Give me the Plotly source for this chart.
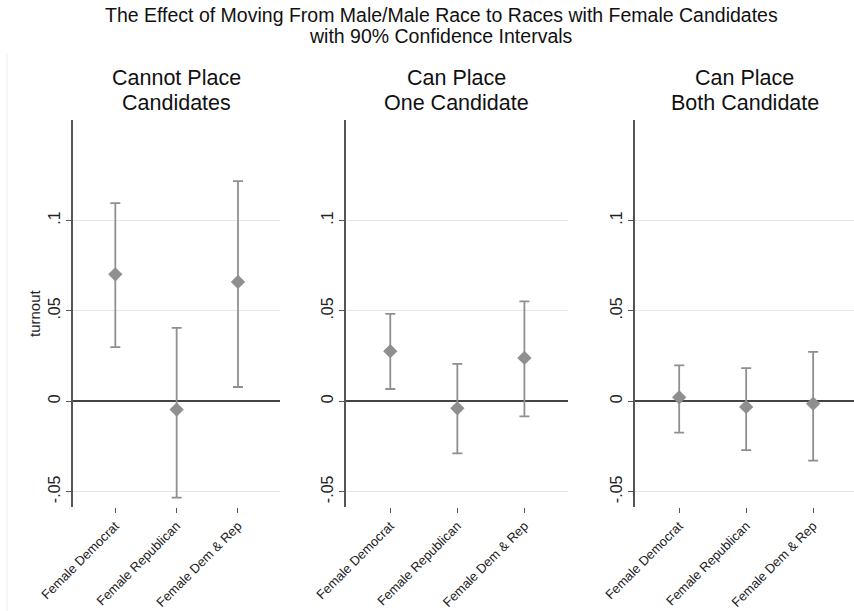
import plotly.graph_objects as go

W, H = 854, 611

categories = ["Female Democrat", "Female Republican", "Female Dem & Rep"]
panel_titles = [["Cannot Place", "Candidates"], ["Can Place", "One Candidate"], ["Can Place", "Both Candidate"]]

est_cannot = [0.0702, -0.0046, 0.0660]
lo_cannot = [0.0299, -0.0532, 0.0079]
hi_cannot = [0.1095, 0.0406, 0.1217]

est_one = [0.0277, -0.0039, 0.0240]
lo_one = [0.0068, -0.0288, -0.0083]
hi_one = [0.0483, 0.0207, 0.0552]

est_both = [0.0022, -0.0031, -0.0013]
lo_both = [-0.0173, -0.0270, -0.0328]
hi_both = [0.0199, 0.0183, 0.0273]

ytick_vals = [-0.05, 0, 0.05, 0.1]
ytick_text = ["-.05", "0", ".05", ".1"]

main_title = ["The Effect of Moving From Male/Male Race to Races with Female Candidates",
              "with 90% Confidence Intervals"]

panels = [(est_cannot, lo_cannot, hi_cannot), (est_one, lo_one, hi_one), (est_both, lo_both, hi_both)]

x_domains = [[73 / W, 280 / W], [345.7 / W, 568 / W], [635 / W, 1.0]]
x_ranges = [[0.31, 3.685], [0.335, 3.65], [0.34, 3.61]]
y_domain = [(H - 507.3) / H, (H - 120) / H]
y_range = [-0.0586, 0.1555]

FONT = "Liberation Sans, Arial, Helvetica, sans-serif"
PT_COLOR = "#8f8f8f"

fig = go.Figure()
layout = dict(
    width=W, height=H,
    margin=dict(l=0, r=0, t=0, b=0, autoexpand=False),
    paper_bgcolor="white", plot_bgcolor="white",
    showlegend=False,
    font=dict(family=FONT, color="#222222"),
)

annotations = []
for i, (est, lo, hi) in enumerate(panels):
    k = "" if i == 0 else str(i + 1)
    xpos = [1, 2, 3]
    fig.add_trace(go.Scatter(
        x=xpos, y=est, mode="markers",
        marker=dict(symbol="diamond", size=11, color=PT_COLOR),
        error_y=dict(type="data", symmetric=False,
                     array=[h - e for h, e in zip(hi, est)],
                     arrayminus=[e - l for e, l in zip(est, lo)],
                     color=PT_COLOR, thickness=1.8, width=5),
        xaxis="x" + k, yaxis="y" + k,
    ))
    layout["xaxis" + k] = dict(
        domain=x_domains[i], range=x_ranges[i], anchor="y" + k,
        tickmode="array", tickvals=xpos, ticktext=categories,
        tickangle=-45, ticks="outside", ticklen=5, tickcolor="#555555", tickwidth=1,
        showline=False, showgrid=False, zeroline=False, automargin=False,
        tickfont=dict(size=13, color="#222222"),
    )
    layout["yaxis" + k] = dict(
        domain=y_domain, range=y_range, anchor="x" + k,
        tickmode="array", tickvals=ytick_vals, ticktext=ytick_text,
        tickangle=-90, ticks="outside", ticklen=5, tickcolor="#555555", tickwidth=1,
        showline=True, linecolor="#555555", linewidth=1.5,
        showgrid=True, gridcolor="#e6e6e6", gridwidth=1,
        zeroline=True, zerolinecolor="#444444", zerolinewidth=1.5, automargin=False,
        tickfont=dict(size=16, color="#222222"),
    )
    cx = (x_domains[i][0] + x_domains[i][1]) / 2
    for j, (line, ypx) in enumerate(zip(panel_titles[i], [78, 103])):
        annotations.append(dict(
            text=line, x=cx, y=1 - ypx / H, xref="paper", yref="paper",
            xanchor="center", yanchor="middle", showarrow=False,
            font=dict(size=21.5, color="#111111", family=FONT),
        ))

layout["yaxis"]["title"] = dict(text="turnout", font=dict(size=15, color="#222222"), standoff=2)

for line, ypx in zip(main_title, [15, 36]):
    annotations.append(dict(
        text=line, x=441 / W, y=1 - ypx / H, xref="paper", yref="paper",
        xanchor="center", yanchor="middle", showarrow=False,
        font=dict(size=19.5, color="#111111", family=FONT),
    ))

layout["annotations"] = annotations
layout["shapes"] = [dict(type="line", xref="paper", yref="paper",
                         x0=7 / W, x1=7 / W, y0=0, y1=1 - 53 / H,
                         line=dict(color="#eeeeee", width=1))]

fig.update_layout(**layout)
fig.write_html("out.html", config={"displayModeBar": False},
               post_script="document.body.style.margin='0';document.body.style.overflow='hidden';")
